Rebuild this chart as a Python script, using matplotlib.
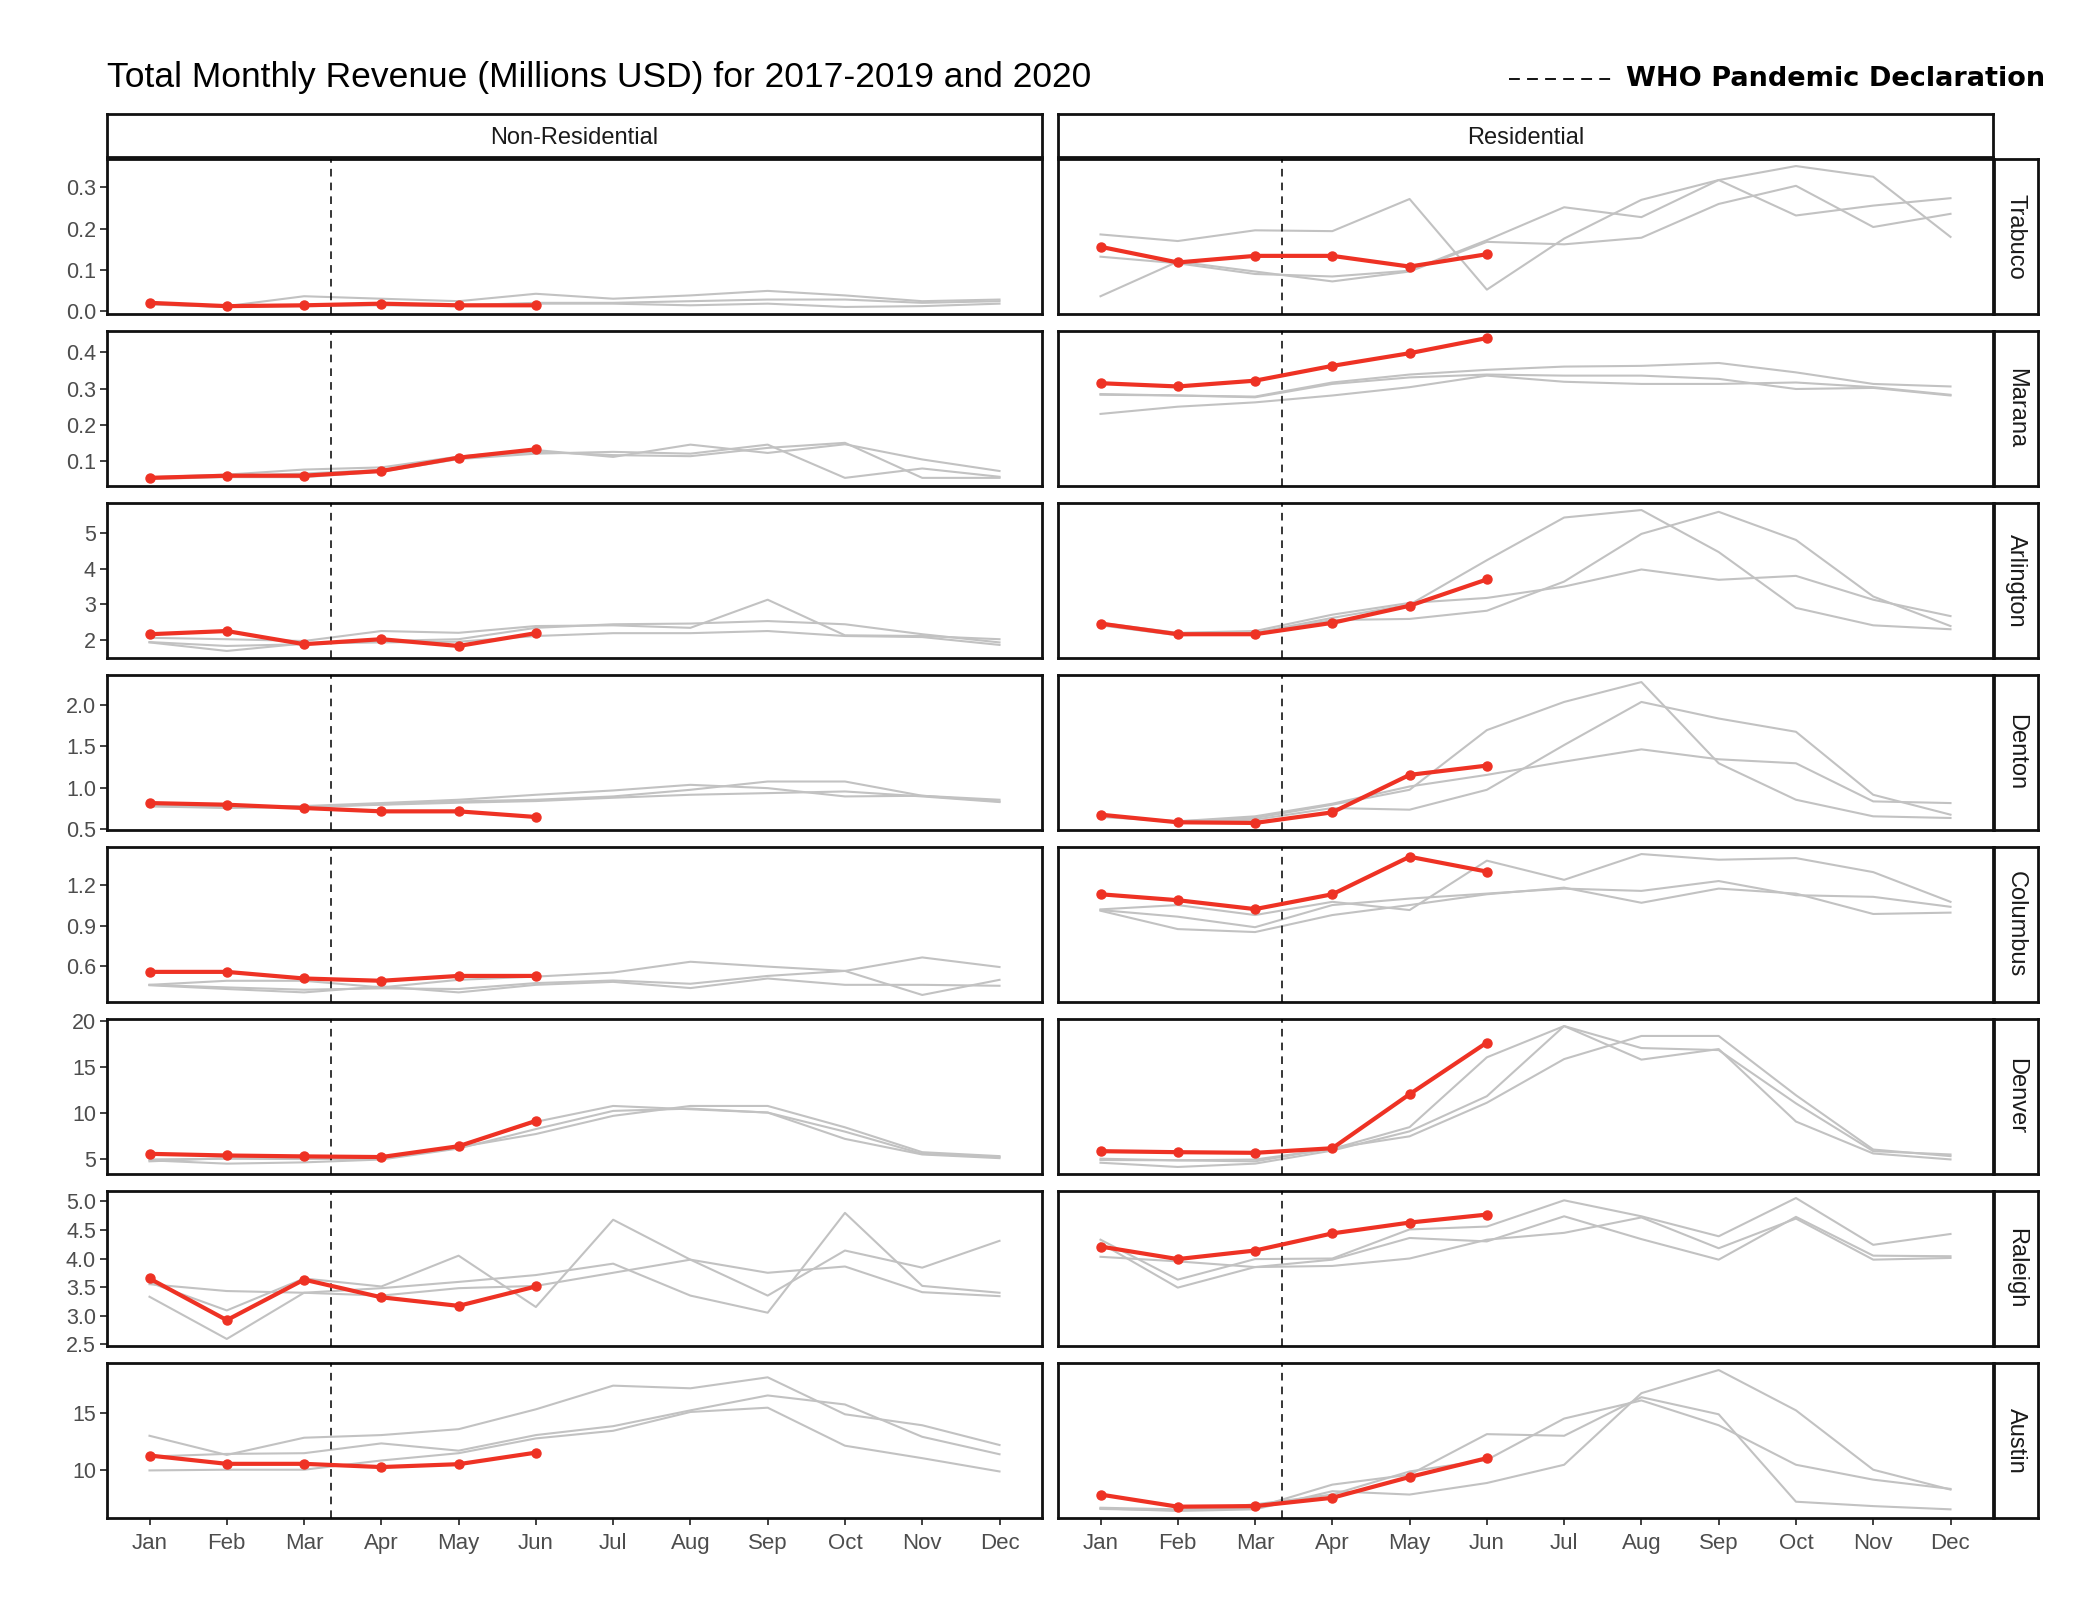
import matplotlib
matplotlib.use('Agg')
import matplotlib.pyplot as plt
from matplotlib.lines import Line2D
from matplotlib.ticker import FixedLocator, FixedFormatter

plt.rcParams['font.family'] = ['Liberation Sans', 'DejaVu Sans']

MONTHS = ['Jan', 'Feb', 'Mar', 'Apr', 'May', 'Jun', 'Jul', 'Aug', 'Sep', 'Oct', 'Nov', 'Dec']
CITIES = ['Trabuco', 'Marana', 'Arlington', 'Denton', 'Columbus', 'Denver', 'Raleigh', 'Austin']
TYPES = ['Non-Residential', 'Residential']
PANDEMIC_X = 3.35  # 11 March

# grey lines: earlier years (three per panel), red: 2020 Jan-Jun
trabuco_nr_a = [0.020, 0.012, 0.036, 0.030, 0.024, 0.042, 0.030, 0.038, 0.049, 0.038, 0.024, 0.028]
trabuco_nr_b = [0.018, 0.010, 0.014, 0.016, 0.014, 0.020, 0.020, 0.024, 0.028, 0.028, 0.020, 0.024]
trabuco_nr_c = [0.016, 0.010, 0.012, 0.014, 0.012, 0.018, 0.018, 0.014, 0.018, 0.010, 0.012, 0.018]
trabuco_nr_2020 = [0.020, 0.012, 0.014, 0.018, 0.014, 0.014]
trabuco_r_a = [0.186, 0.170, 0.196, 0.194, 0.272, 0.052, 0.176, 0.270, 0.318, 0.352, 0.326, 0.180]
trabuco_r_b = [0.132, 0.116, 0.090, 0.084, 0.098, 0.172, 0.252, 0.228, 0.318, 0.232, 0.256, 0.274]
trabuco_r_c = [0.036, 0.120, 0.096, 0.072, 0.096, 0.168, 0.162, 0.178, 0.260, 0.304, 0.204, 0.236]
trabuco_r_2020 = [0.156, 0.118, 0.134, 0.134, 0.108, 0.138]

marana_nr_a = [0.050, 0.055, 0.055, 0.070, 0.105, 0.120, 0.125, 0.120, 0.145, 0.053, 0.079, 0.056]
marana_nr_b = [0.052, 0.058, 0.065, 0.075, 0.108, 0.125, 0.116, 0.113, 0.136, 0.150, 0.053, 0.053]
marana_nr_c = [0.055, 0.062, 0.076, 0.082, 0.112, 0.130, 0.111, 0.145, 0.122, 0.146, 0.104, 0.072]
marana_nr_2020 = [0.053, 0.059, 0.059, 0.072, 0.109, 0.132]
marana_r_a = [0.285, 0.281, 0.278, 0.317, 0.339, 0.352, 0.361, 0.363, 0.371, 0.345, 0.313, 0.306]
marana_r_b = [0.283, 0.281, 0.276, 0.313, 0.331, 0.339, 0.336, 0.336, 0.327, 0.299, 0.302, 0.281]
marana_r_c = [0.230, 0.250, 0.262, 0.281, 0.304, 0.336, 0.319, 0.313, 0.313, 0.317, 0.304, 0.283]
marana_r_2020 = [0.315, 0.306, 0.322, 0.363, 0.398, 0.440]

arlington_nr_a = [2.06, 2.02, 1.97, 2.25, 2.20, 2.39, 2.41, 2.34, 3.13, 2.13, 2.11, 2.02]
arlington_nr_b = [1.94, 1.83, 1.88, 1.97, 2.02, 2.34, 2.44, 2.46, 2.53, 2.44, 2.16, 1.93]
arlington_nr_c = [1.93, 1.69, 1.90, 1.93, 1.95, 2.11, 2.19, 2.19, 2.25, 2.11, 2.08, 1.86]
arlington_nr_2020 = [2.16, 2.25, 1.88, 2.02, 1.83, 2.19]
arlington_r_a = [2.44, 2.16, 2.20, 2.62, 2.99, 4.24, 5.44, 5.65, 4.47, 2.90, 2.41, 2.30]
arlington_r_b = [2.41, 2.13, 2.18, 2.56, 2.59, 2.82, 3.64, 4.98, 5.60, 4.81, 3.22, 2.39]
arlington_r_c = [2.48, 2.20, 2.25, 2.71, 3.04, 3.18, 3.50, 3.98, 3.69, 3.80, 3.13, 2.67]
arlington_r_2020 = [2.46, 2.16, 2.16, 2.48, 2.96, 3.70]

denton_nr_a = [0.790, 0.776, 0.780, 0.816, 0.856, 0.916, 0.968, 1.036, 0.996, 0.896, 0.904, 0.856]
denton_nr_b = [0.780, 0.765, 0.770, 0.800, 0.836, 0.856, 0.896, 0.976, 1.076, 1.076, 0.904, 0.836]
denton_nr_c = [0.776, 0.756, 0.770, 0.796, 0.820, 0.840, 0.880, 0.916, 0.936, 0.956, 0.896, 0.828]
denton_nr_2020 = [0.816, 0.796, 0.756, 0.716, 0.716, 0.648]
denton_r_a = [0.656, 0.596, 0.636, 0.796, 0.976, 1.696, 2.036, 2.276, 1.296, 0.856, 0.656, 0.636]
denton_r_b = [0.664, 0.584, 0.616, 0.756, 0.736, 0.976, 1.516, 2.036, 1.836, 1.676, 0.916, 0.676]
denton_r_c = [0.648, 0.596, 0.656, 0.808, 1.016, 1.156, 1.316, 1.464, 1.344, 1.296, 0.836, 0.816]
denton_r_2020 = [0.676, 0.584, 0.576, 0.704, 1.156, 1.268]

columbus_nr_a = [0.463, 0.493, 0.493, 0.444, 0.500, 0.524, 0.554, 0.634, 0.598, 0.566, 0.666, 0.595]
columbus_nr_b = [0.463, 0.444, 0.427, 0.437, 0.432, 0.476, 0.495, 0.471, 0.529, 0.566, 0.388, 0.500]
columbus_nr_c = [0.460, 0.432, 0.407, 0.451, 0.407, 0.463, 0.485, 0.439, 0.510, 0.463, 0.463, 0.456]
columbus_nr_2020 = [0.559, 0.559, 0.510, 0.493, 0.529, 0.529]
columbus_r_a = [1.022, 1.054, 0.980, 1.078, 1.017, 1.383, 1.241, 1.432, 1.390, 1.402, 1.298, 1.078]
columbus_r_b = [1.017, 0.968, 0.890, 1.054, 1.102, 1.139, 1.176, 1.159, 1.232, 1.127, 1.115, 1.041]
columbus_r_c = [1.012, 0.876, 0.854, 0.980, 1.054, 1.134, 1.183, 1.071, 1.176, 1.139, 0.988, 0.998]
columbus_r_2020 = [1.134, 1.090, 1.024, 1.134, 1.412, 1.302]

denver_nr_a = [4.96, 5.04, 5.00, 5.04, 6.29, 7.73, 9.71, 10.79, 10.79, 8.46, 5.75, 5.32]
denver_nr_b = [4.86, 4.50, 4.64, 4.95, 6.15, 8.27, 10.25, 10.50, 10.07, 7.99, 5.57, 5.22]
denver_nr_c = [4.75, 5.10, 5.10, 5.10, 6.40, 9.06, 10.79, 10.43, 10.07, 7.20, 5.50, 5.10]
denver_nr_2020 = [5.57, 5.39, 5.29, 5.22, 6.40, 9.16]
denver_r_a = [5.04, 4.86, 4.95, 6.11, 8.48, 16.09, 19.50, 17.10, 16.88, 11.07, 5.86, 5.50]
denver_r_b = [4.60, 4.14, 4.50, 5.93, 8.02, 11.85, 19.50, 15.84, 16.99, 9.09, 5.61, 4.96]
denver_r_c = [4.90, 4.86, 4.75, 6.18, 7.48, 11.14, 15.90, 18.42, 18.42, 11.96, 6.04, 5.32]
denver_r_2020 = [5.86, 5.75, 5.68, 6.18, 12.07, 17.70]

raleigh_nr_a = [3.58, 3.09, 3.65, 3.51, 4.05, 3.15, 4.68, 3.98, 3.35, 4.14, 3.84, 4.31]
raleigh_nr_b = [3.55, 3.43, 3.40, 3.48, 3.59, 3.71, 3.91, 3.35, 3.05, 4.80, 3.52, 3.40]
raleigh_nr_c = [3.33, 2.59, 3.40, 3.35, 3.48, 3.52, 3.75, 3.98, 3.75, 3.86, 3.41, 3.34]
raleigh_nr_2020 = [3.65, 2.92, 3.63, 3.32, 3.17, 3.51]
raleigh_r_a = [4.33, 3.63, 3.99, 4.00, 4.51, 4.56, 5.02, 4.74, 4.39, 5.06, 4.24, 4.43]
raleigh_r_b = [4.27, 3.49, 3.85, 3.98, 4.36, 4.30, 4.74, 4.34, 3.98, 4.73, 4.05, 4.04]
raleigh_r_c = [4.03, 3.95, 3.85, 3.87, 4.00, 4.33, 4.45, 4.72, 4.18, 4.70, 3.98, 4.01]
raleigh_r_2020 = [4.21, 3.99, 4.14, 4.44, 4.63, 4.77]

austin_nr_a = [13.00, 11.34, 12.83, 13.06, 13.57, 15.29, 17.34, 17.11, 18.06, 14.86, 13.91, 12.20]
austin_nr_b = [11.20, 11.43, 11.49, 12.34, 11.71, 13.06, 13.83, 15.20, 16.49, 15.71, 12.91, 11.40]
austin_nr_c = [10.00, 10.06, 10.06, 10.86, 11.49, 12.77, 13.43, 15.06, 15.43, 12.14, 11.06, 9.91]
austin_nr_2020 = [11.29, 10.57, 10.57, 10.29, 10.54, 11.54]
austin_r_a = [6.71, 6.49, 6.63, 8.20, 7.91, 8.91, 10.49, 16.69, 18.69, 15.20, 10.06, 8.34]
austin_r_b = [6.77, 6.63, 6.77, 8.77, 9.63, 13.14, 13.00, 16.34, 14.86, 7.29, 6.91, 6.63]
austin_r_c = [6.66, 6.56, 7.06, 7.91, 9.91, 10.91, 14.49, 16.06, 13.91, 10.49, 9.20, 8.40]
austin_r_2020 = [7.91, 6.86, 6.91, 7.63, 9.43, 11.06]

# y ticks per row (shared within a row)
ROW_TICKS = [
    [0.0, 0.1, 0.2, 0.3],
    [0.1, 0.2, 0.3, 0.4],
    [2, 3, 4, 5],
    [0.5, 1.0, 1.5, 2.0],
    [0.6, 0.9, 1.2],
    [5, 10, 15, 20],
    [2.5, 3.0, 3.5, 4.0, 4.5, 5.0],
    [10, 15],
]
ROW_TICK_LABELS = [
    ['0.0', '0.1', '0.2', '0.3'],
    ['0.1', '0.2', '0.3', '0.4'],
    ['2', '3', '4', '5'],
    ['0.5', '1.0', '1.5', '2.0'],
    ['0.6', '0.9', '1.2'],
    ['5', '10', '15', '20'],
    ['2.5', '3.0', '3.5', '4.0', '4.5', '5.0'],
    ['10', '15'],
]

g = globals()
GREY = '#c2c2c2'
RED = '#ee3224'

W, H = 2098, 1605
fig = plt.figure(figsize=(W / 100, H / 100), dpi=100)


def box(x0, y0, w, h):
    return [x0 / W, 1 - (y0 + h) / H, w / W, h / H]


COL_X = [107, 1058]
PANEL_W = 935
PANEL_H = 155
ROW_Y0 = 159
ROW_PITCH = 172

months_x = list(range(1, 13))

for r, city in enumerate(CITIES):
    key = city.lower()
    row_axes = []
    y0 = ROW_Y0 + r * ROW_PITCH
    for c, typ in enumerate(TYPES):
        suffix = 'nr' if c == 0 else 'r'
        share = row_axes[0] if row_axes else None
        ax = fig.add_axes(box(COL_X[c], y0, PANEL_W, PANEL_H), sharey=share)
        row_axes.append(ax)
        for s in ['a', 'b', 'c']:
            ax.plot(months_x, g[f'{key}_{suffix}_{s}'], color=GREY, lw=1.5, zorder=2)
        ax.plot(months_x[:6], g[f'{key}_{suffix}_2020'], color=RED, lw=3.0,
                marker='o', markersize=6.5, zorder=4)
        ax.axvline(PANDEMIC_X, color='black', lw=1.1, dashes=(5, 4), zorder=3)
        ax.set_xlim(0.45, 12.55)
        for sp in ax.spines.values():
            sp.set_linewidth(2.0)
            sp.set_color('#111111')
        ax.set_xticks(months_x)
        if r == len(CITIES) - 1:
            ax.set_xticklabels(MONTHS)
            ax.tick_params(axis='x', length=5, width=1.3, color='#333333',
                           labelsize=16, labelcolor='#4d4d4d', pad=6)
        else:
            ax.tick_params(axis='x', length=0, labelbottom=False)
        if c == 0:
            ax.yaxis.set_major_locator(FixedLocator(ROW_TICKS[r]))
            ax.yaxis.set_major_formatter(FixedFormatter(ROW_TICK_LABELS[r]))
            ax.tick_params(axis='y', length=5, width=1.3, color='#333333',
                           labelsize=15.5, labelcolor='#4d4d4d', pad=3)
        else:
            ax.tick_params(axis='y', length=0, labelleft=False)
        ax.set_facecolor('white')

    # right strip with city name
    sax = fig.add_axes(box(1994, y0, 44, PANEL_H))
    sax.set_xticks([])
    sax.set_yticks([])
    for sp in sax.spines.values():
        sp.set_linewidth(2.0)
        sp.set_color('#111111')
    sax.text(0.5, 0.5, city, rotation=-90, ha='center', va='center',
             fontsize=17, color='#1a1a1a', transform=sax.transAxes)

# top strips
for c, typ in enumerate(TYPES):
    tax = fig.add_axes(box(COL_X[c], 114, PANEL_W, 43))
    tax.set_xticks([])
    tax.set_yticks([])
    for sp in tax.spines.values():
        sp.set_linewidth(2.0)
        sp.set_color('#111111')
    tax.text(0.5, 0.45, typ, ha='center', va='center', fontsize=17,
             color='#1a1a1a', transform=tax.transAxes)

fig.text(107 / W, 1 - 78 / H, 'Total Monthly Revenue (Millions USD) for 2017-2019 and 2020',
         fontsize=25.5, va='center', ha='left', color='black')

fig.add_artist(Line2D([1509 / W, 1616 / W], [1 - 79 / H, 1 - 79 / H], color='black',
                      lw=1.3, dashes=(6, 4), transform=fig.transFigure))
fig.text(1626 / W, 1 - 79 / H, 'WHO Pandemic Declaration', fontsize=19.5, fontweight='bold',
         family=['DejaVu Sans'], va='center', ha='left', color='black')

fig.savefig('out.png', dpi=100, facecolor='white')
